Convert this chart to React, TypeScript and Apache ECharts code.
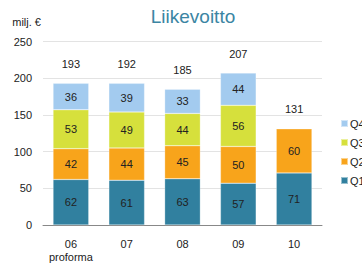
import React, { useEffect, useRef } from "react";
import * as echarts from "echarts";

const categories = ["06\nproforma", "07", "08", "09", "10"];
const q1 = [62, 61, 63, 57, 71];
const q2 = [42, 44, 45, 50, 60];
const q3 = [53, 49, 44, 56, null];
const q4 = [36, 39, 33, 44, null];
const totals = [193, 192, 185, 207, 131];
const yTicks = { min: 0, max: 250, interval: 50 };

const FONT = "'Liberation Sans', Arial, sans-serif";

export default function App() {
  const ref = useRef<HTMLDivElement>(null);
  useEffect(() => {
    document.body.style.margin = "0";
    if (!ref.current) return;
    const chart = echarts.init(ref.current, undefined, { renderer: "svg" });
    const inLabel = {
      show: true,
      position: "inside",
      color: "#222",
      fontSize: 11,
      fontFamily: FONT,
    };
    const mk = (name: string, data: (number | null)[], color: string) => ({
      name,
      type: "bar",
      stack: "a",
      barWidth: "64%",
      data,
      itemStyle: { color, borderColor: "rgba(255,255,255,0.5)", borderWidth: 0.5 },
      label: inLabel,
    });
    chart.setOption({
      animation: false,
      textStyle: { fontFamily: FONT },
      title: {
        text: "Liikevoitto",
        left: 188,
        textAlign: "center",
        top: 2,
        textStyle: { color: "#3b85a3", fontSize: 19, fontWeight: "normal", fontFamily: FONT },
      },
      legend: {
        orient: "vertical",
        left: 335,
        top: 113,
        itemWidth: 7,
        itemHeight: 7,
        itemGap: 8,
        icon: "rect",
        data: ["Q4", "Q3", "Q2", "Q1"],
        textStyle: { fontSize: 11, color: "#222", fontFamily: FONT, padding: [0, 0, 0, -3] },
      },
      grid: { left: 43, right: 40, top: 41.5, bottom: 38 },
      xAxis: {
        type: "category",
        data: categories,
        axisLine: { lineStyle: { color: "#888" } },
        axisTick: { show: false },
        axisLabel: { interval: 0, color: "#222", fontSize: 11, fontFamily: FONT, margin: 12, lineHeight: 13 },
      },
      yAxis: {
        type: "value",
        min: yTicks.min,
        max: yTicks.max,
        interval: yTicks.interval,
        name: "milj. €",
        nameLocation: "end",
        nameGap: 14,
        nameTextStyle: { color: "#222", fontSize: 11, fontFamily: FONT, align: "right", padding: [0, 2, 0, 0] },
        axisLine: { show: false },
        axisTick: { show: false },
        axisLabel: { color: "#222", fontSize: 11, fontFamily: FONT, margin: 11 },
        splitLine: { lineStyle: { color: "#e3e3e3" } },
      },
      series: [
        mk("Q1", q1, "#31809f"),
        mk("Q2", q2, "#f8a41b"),
        mk("Q3", q3, "#d6e03c"),
        mk("Q4", q4, "#a3cbef"),
        {
          name: "total",
          type: "bar",
          stack: "a",
          barWidth: "64%",
          data: totals.map(() => 0),
          itemStyle: { color: "transparent" },
          label: {
            show: true,
            position: "top",
            distance: 14,
            color: "#222",
            fontSize: 11,
            fontFamily: FONT,
            formatter: (p: any) => String(totals[p.dataIndex]),
          },
        },
      ],
    });
    return () => chart.dispose();
  }, []);
  return <div ref={ref} style={{ width: 362, height: 263 }} />;
}
